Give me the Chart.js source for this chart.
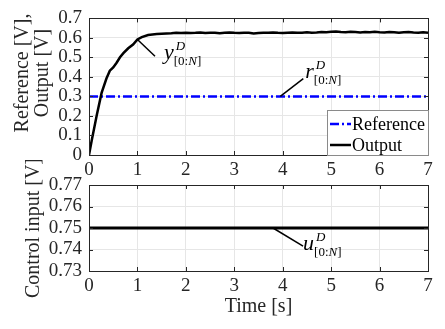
<!DOCTYPE html>
<html>
<head>
<meta charset="utf-8">
<script src="https://cdn.jsdelivr.net/npm/chart.js@4.4.1/dist/chart.umd.min.js"></script>
<style>
  html, body { margin: 0; padding: 0; background: #fff; }
  #wrap { position: relative; width: 445px; height: 329px; overflow: hidden; }
  .box { position: absolute; left: 0; width: 445px; }
</style>
</head>
<body>
<div id="wrap">
  <div class="box" style="top:0;height:185px;"><canvas id="top" width="445" height="185"></canvas></div>
  <div class="box" style="top:160px;height:169px;"><canvas id="bottom" width="445" height="169"></canvas></div>
</div>
<script>
// time axis
const xTicks = [0, 1, 2, 3, 4, 5, 6, 7];
const yTicksTop = [0, 0.1, 0.2, 0.3, 0.4, 0.5, 0.6, 0.7];
const yTicksBottom = [0.73, 0.74, 0.75, 0.76, 0.77];

// output y
const outputTime = [0, 0.055, 0.16, 0.26, 0.36, 0.43, 0.5, 0.57, 0.64, 0.71, 0.81, 0.91, 1.0, 1.09, 1.22, 1.4, 1.6,
  1.7, 1.8, 1.9, 2.0, 2.1, 2.2, 2.3, 2.4, 2.5, 2.6, 2.7, 2.8, 2.9, 3.0, 3.1, 3.2, 3.3, 3.4, 3.5, 3.6, 3.7, 3.8, 3.9,
  4.0, 4.1, 4.2, 4.3, 4.4, 4.5, 4.6, 4.7, 4.8, 4.9, 5.0, 5.1, 5.2, 5.3, 5.4, 5.5, 5.6, 5.7, 5.8, 5.9,
  6.0, 6.1, 6.2, 6.3, 6.4, 6.5, 6.6, 6.7, 6.8, 6.9, 7.0];
const outputValue = [0, 0.073, 0.204, 0.318, 0.392, 0.432, 0.449, 0.473, 0.501, 0.522, 0.547, 0.566, 0.592, 0.604, 0.615, 0.620, 0.623,
  0.624, 0.626, 0.625, 0.627, 0.625, 0.626, 0.628, 0.625, 0.626, 0.627, 0.624, 0.626, 0.628, 0.626, 0.625, 0.627, 0.626, 0.623, 0.625, 0.627, 0.626, 0.628, 0.626,
  0.625, 0.627, 0.628, 0.626, 0.627, 0.629, 0.627, 0.628, 0.630, 0.629, 0.631, 0.633, 0.630, 0.629, 0.631, 0.630, 0.628, 0.630, 0.629, 0.631,
  0.629, 0.628, 0.630, 0.629, 0.627, 0.629, 0.630, 0.628, 0.627, 0.629, 0.627];

// reference r
const referenceTime = [0, 7];
const referenceValue = [0.3, 0.3];

// control input u
const controlTime = [0, 7];
const controlValue = [0.75, 0.75];

const SERIF = '"Liberation Serif", "Times New Roman", serif';
const INK = '#262626';
const GRID = '#e6e6e6';

function toPoints(xs, ys) {
    return xs.map((x, i) => ({ x: x, y: ys[i] }));
}

function fixedTicks(values) {
    return scale => { scale.ticks = values.map(v => ({ value: v })); };
}

// box, inward ticks, titles, labels, legend
function decorPlugin(draw) {
    return {
        id: 'decor',
        afterDraw(chart) {
            const ctx = chart.ctx;
            const a = chart.chartArea;
            const xs = chart.scales.x, ys = chart.scales.y;
            ctx.save();
            ctx.strokeStyle = INK;
            ctx.lineWidth = 1;
            ctx.beginPath();
            xs.ticks.forEach(t => {
                const px = Math.round(xs.getPixelForValue(t.value)) + 0.5;
                ctx.moveTo(px, a.bottom); ctx.lineTo(px, a.bottom - 4);
                ctx.moveTo(px, a.top); ctx.lineTo(px, a.top + 4);
            });
            ys.ticks.forEach(t => {
                const py = Math.round(ys.getPixelForValue(t.value)) + 0.5;
                ctx.moveTo(a.left, py); ctx.lineTo(a.left + 4, py);
                ctx.moveTo(a.right, py); ctx.lineTo(a.right - 4, py);
            });
            ctx.stroke();
            ctx.strokeRect(Math.round(a.left) + 0.5, Math.round(a.top) + 0.5,
                Math.round(a.right - a.left), Math.round(a.bottom - a.top));
            draw(ctx, chart, xs, ys);
            ctx.restore();
        }
    };
}

function vText(ctx, text, x, y) {
    ctx.save();
    ctx.translate(x, y);
    ctx.rotate(-Math.PI / 2);
    ctx.textAlign = 'center';
    ctx.textBaseline = 'middle';
    ctx.fillText(text, 0, 0);
    ctx.restore();
}

// math label like y^D_[0:N], leader from data point (t0,v0) to (t1,v1)
function mathLabel(ctx, xs, ys, letter, t0, v0, t1, v1, dx, dy) {
    const x0 = xs.getPixelForValue(t0), y0 = ys.getPixelForValue(v0);
    const x1 = xs.getPixelForValue(t1), y1 = ys.getPixelForValue(v1);
    ctx.strokeStyle = '#000';
    ctx.lineWidth = 1.5;
    ctx.beginPath();
    ctx.moveTo(x0, y0);
    ctx.lineTo(x1, y1);
    ctx.stroke();
    const bx = x1 + dx, by = y1 + dy;
    ctx.fillStyle = '#000';
    ctx.textAlign = 'left';
    ctx.textBaseline = 'alphabetic';
    ctx.font = 'italic 22px ' + SERIF;
    ctx.fillText(letter, bx, by);
    const w = ctx.measureText(letter).width;
    ctx.font = 'italic 13px ' + SERIF;
    ctx.fillText('D', bx + w + 2, by - 9);
    ctx.font = '13px ' + SERIF;
    let sx = bx + w;
    const sy = by + 6;
    ctx.fillText('[0:', sx, sy);
    sx += ctx.measureText('[0:').width;
    ctx.font = 'italic 13px ' + SERIF;
    ctx.fillText('N', sx, sy);
    sx += ctx.measureText('N').width;
    ctx.font = '13px ' + SERIF;
    ctx.fillText(']', sx, sy);
}

function baseOptions(yTicks, yMin, yMax, yFmt, xHeight, padTop) {
    return {
        responsive: false,
        animation: false,
        devicePixelRatio: 1,
        layout: { padding: { top: padTop, right: 17, left: 0, bottom: 0 } },
        plugins: { legend: { display: false }, tooltip: { enabled: false } },
        elements: { point: { radius: 0 }, line: { tension: 0 } },
        scales: {
            x: {
                type: 'linear', min: 0, max: 7,
                afterBuildTicks: fixedTicks(xTicks),
                afterFit: s => { s.height = xHeight; },
                grid: { color: GRID, drawTicks: false },
                border: { display: false },
                ticks: { autoSkip: false, font: { family: SERIF, size: 19 }, color: INK, padding: 4, maxRotation: 0, callback: v => String(v) }
            },
            y: {
                type: 'linear', min: yMin, max: yMax,
                afterBuildTicks: fixedTicks(yTicks),
                afterFit: s => { s.width = 89; },
                grid: { color: GRID, drawTicks: false },
                border: { display: false },
                ticks: { autoSkip: false, font: { family: SERIF, size: 19 }, color: INK, padding: 7, callback: yFmt }
            }
        }
    };
}

// top: reference and output
new Chart(document.getElementById('top'), {
    type: 'line',
    data: {
        datasets: [
            {
                label: 'Reference',
                data: toPoints(referenceTime, referenceValue),
                borderColor: '#0000ff',
                borderWidth: 2.5,
                borderDash: [9, 3, 2, 3],
                order: 1
            },
            {
                label: 'Output',
                data: toPoints(outputTime, outputValue),
                borderColor: '#000000',
                borderWidth: 2.5,
                order: 0
            }
        ]
    },
    options: baseOptions(yTicksTop, 0, 0.7, v => v === 0 ? '0' : v.toFixed(1), 30, 12),
    plugins: [decorPlugin((ctx, chart, xs, ys) => {
        const a = chart.chartArea;
        ctx.fillStyle = INK;
        ctx.font = '20px ' + SERIF;
        vText(ctx, 'Reference [V],', 23, 73);
        vText(ctx, 'Output [V]', 43, 73);

        mathLabel(ctx, xs, ys, 'y', 1.0, 0.592, 1.363, 0.506, 9, 3);
        mathLabel(ctx, xs, ys, 'r', 3.95, 0.3, 4.425, 0.391, 2, -1);

        // legend box
        const lx = 327, ly = 110, lr = Math.round(a.right), lb = Math.round(a.bottom);
        ctx.fillStyle = '#fff';
        ctx.fillRect(lx, ly, lr - lx, lb - ly);
        ctx.strokeStyle = '#8a8a8a';
        ctx.lineWidth = 1;
        ctx.strokeRect(lx + 0.5, ly + 0.5, lr - lx, lb - ly);
        const rows = chart.data.datasets;
        const rowY = [124, 145];
        rows.forEach((ds, i) => {
            ctx.strokeStyle = ds.borderColor;
            ctx.lineWidth = ds.borderWidth;
            ctx.setLineDash(ds.borderDash || []);
            ctx.beginPath();
            ctx.moveTo(330, rowY[i]);
            ctx.lineTo(351, rowY[i]);
            ctx.stroke();
            ctx.setLineDash([]);
            ctx.fillStyle = '#000';
            ctx.font = '18px ' + SERIF;
            ctx.textAlign = 'left';
            ctx.textBaseline = 'middle';
            ctx.fillText(ds.label, 352, rowY[i] + 1);
        });
    })]
});

// bottom: control input
new Chart(document.getElementById('bottom'), {
    type: 'line',
    data: {
        datasets: [{
            label: 'Control input',
            data: toPoints(controlTime, controlValue),
            borderColor: '#000000',
            borderWidth: 3
        }]
    },
    options: baseOptions(yTicksBottom, 0.73, 0.77, v => v.toFixed(2), 58, 25),
    plugins: [decorPlugin((ctx, chart, xs, ys) => {
        const a = chart.chartArea;
        ctx.fillStyle = INK;
        ctx.font = '20px ' + SERIF;
        vText(ctx, 'Control input [V]', 34, (a.top + a.bottom) / 2);
        ctx.textAlign = 'center';
        ctx.textBaseline = 'middle';
        ctx.fillText('Time [s]', (a.left + a.right) / 2, 147);
        mathLabel(ctx, xs, ys, 'u', 3.8, 0.75, 4.42, 0.7416, 0, 4);
    })]
});
</script>
</body>
</html>
